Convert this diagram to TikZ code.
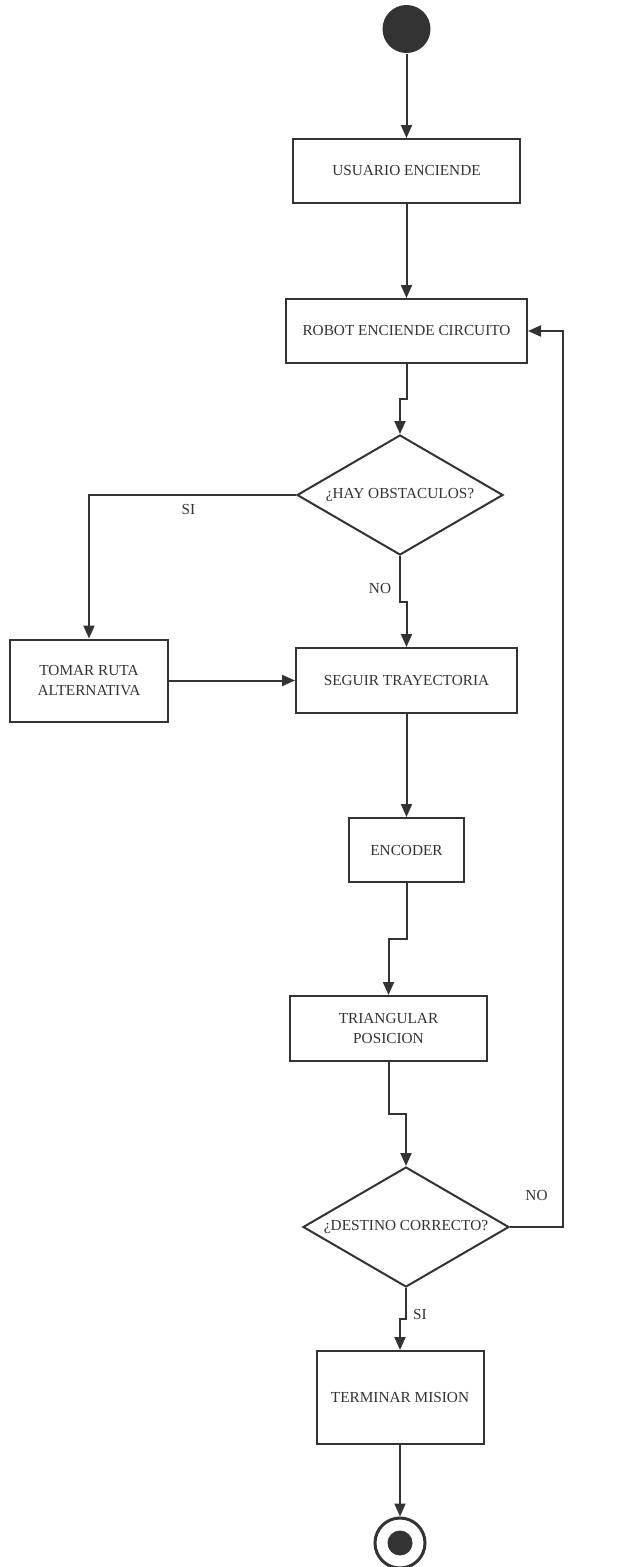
\documentclass[tikz,border=0pt]{standalone}
\usepackage{amsmath}
\usepackage{fontspec}
\setmainfont{Liberation Serif}
\usepackage{tikz}
\usetikzlibrary{shapes.geometric,arrows.meta}

\definecolor{ink}{HTML}{333333}

\begin{document}
\begin{tikzpicture}[x=1pt,y=-1pt,line width=2pt,draw=ink,text=ink,
    font=\fontsize{15.3}{20}\selectfont,
    >={Triangle[length=13pt,width=11pt]},
    box/.style={draw=ink,rectangle,inner sep=0pt,align=center},
    decision/.style={draw=ink,diamond,inner sep=0pt,aspect=1.72,
      minimum width=206pt,minimum height=120pt},
    inicial/.style={circle,fill=ink,minimum size=48pt,inner sep=0pt},
    final/.style={circle,draw=ink,line width=3pt,minimum size=50pt,inner sep=0pt,
      path picture={\fill[ink] (path picture bounding box.center) circle (12.5pt);}}]
  \useasboundingbox (0,0) rectangle (618,1567);

  \node[inicial](inicio) at (406.5,29) {};
  \node[box,minimum width=227pt,minimum height=64pt](usuario) at (406.5,171) {USUARIO ENCIENDE};
  \node[box,minimum width=241pt,minimum height=64pt](robot) at (406.5,331) {ROBOT ENCIENDE CIRCUITO};
  \node[decision](obstaculos) at (400,495) {¿HAY OBSTACULOS?};
  \node[box,minimum width=158pt,minimum height=82pt](ruta) at (89,680.5) {TOMAR RUTA\\ALTERNATIVA};
  \node[box,minimum width=221pt,minimum height=65pt](seguir) at (406.5,680.5) {SEGUIR TRAYECTORIA};
  \node[box,minimum width=115pt,minimum height=64pt](encoder) at (406.5,850) {ENCODER};
  \node[box,minimum width=197pt,minimum height=65pt](triangular) at (388.5,1028.5) {TRIANGULAR\\POSICION};
  \node[decision](destino) at (406,1227) {¿DESTINO CORRECTO?};
  \node[box,minimum width=167pt,minimum height=93pt](terminar) at (400,1397.5) {TERMINAR MISION};
  \node[final](fin) at (400,1543) {};

  \path[->]
  (inicio) edge (usuario)
  (usuario) edge (robot)
  (ruta) edge (seguir)
  (seguir) edge (encoder)
  (terminar) edge (fin);

  % conectores con quiebre
  \draw[->] (robot.south) -- ++(0,35) -| (obstaculos.north);
  \draw[->] (obstaculos.west) -| node[pos=0.26,yshift=-15pt]{SI} (ruta.north);
  \draw[->] (obstaculos.south) -- node[pos=0.7,xshift=-20pt]{NO} ++(0,46) -| (seguir.north);
  \draw[->] (encoder.south) -- ++(0,56) -| (triangular.north);
  \draw[->] (triangular.south) -- ++(0,52) -| (destino.north);
  \draw[->] (destino.east) -- node[yshift=32pt]{NO} ++(53,0) |- (robot.east);
  \draw[->] (destino.south) -- node[pos=0.85,xshift=14pt]{SI} ++(0,31) -| (terminar.north);
\end{tikzpicture}
\end{document}
